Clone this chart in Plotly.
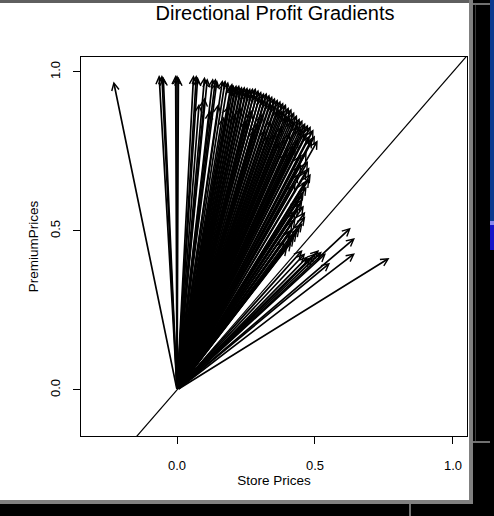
import plotly.graph_objects as go

# ---------------- data ----------------
title_text = "Directional Profit Gradients"
x_label = "Store Prices"
y_label = "PremiumPrices"
tick_vals = [0.0, 0.5, 1.0]
tick_text = ["0.0", "0.5", "1.0"]

origin_x = 0.0
origin_y = 0.0

# upper part of the fan (arrow tips)
fan_x = [-0.23, -0.065, -0.055, -0.05, -0.005, 0.0, 0.005, 0.06, 0.07, 0.075,
         0.10, 0.11, 0.13, 0.14, 0.145, 0.165, 0.175, 0.185, 0.20, 0.205,
         0.215, 0.225, 0.235, 0.245, 0.255, 0.265, 0.275, 0.285, 0.295, 0.305,
         0.315, 0.325, 0.335, 0.345, 0.355, 0.365, 0.375, 0.385, 0.395, 0.405,
         0.415, 0.425, 0.435, 0.445, 0.455, 0.465, 0.475, 0.485, 0.495, 0.50, 0.51]
fan_y = [0.97, 0.99, 0.99, 0.985, 0.99, 0.99, 0.985, 0.99, 0.99, 0.985,
         0.985, 0.98, 0.98, 0.98, 0.975, 0.975, 0.975, 0.97, 0.965, 0.96,
         0.96, 0.96, 0.955, 0.955, 0.953, 0.95, 0.95, 0.95, 0.945, 0.94,
         0.935, 0.935, 0.93, 0.925, 0.92, 0.915, 0.91, 0.905, 0.90, 0.89,
         0.885, 0.875, 0.865, 0.855, 0.85, 0.84, 0.835, 0.83, 0.82, 0.80, 0.785]

# second layer of slightly shorter fan arrows
fan2_x = [0.195, 0.21, 0.22, 0.23, 0.24, 0.25, 0.26, 0.27, 0.28, 0.29,
          0.30, 0.31, 0.32, 0.33, 0.34, 0.35, 0.36, 0.37, 0.38, 0.39,
          0.40, 0.41, 0.42, 0.43, 0.44, 0.45, 0.46, 0.47, 0.48, 0.49]
fan2_y = [0.955, 0.95, 0.95, 0.945, 0.945, 0.94, 0.94, 0.935, 0.935, 0.93,
          0.925, 0.92, 0.915, 0.91, 0.905, 0.90, 0.895, 0.885, 0.88, 0.875,
          0.865, 0.86, 0.85, 0.845, 0.835, 0.825, 0.82, 0.81, 0.80, 0.79]

# arrows ending inside the fan
mid_x = [0.08, 0.10, 0.12, 0.15, 0.17, 0.19, 0.21, 0.23, 0.25, 0.27,
         0.29, 0.31, 0.32, 0.34, 0.36, 0.38, 0.39, 0.41, 0.42, 0.44,
         0.45, 0.44, 0.43, 0.44, 0.43, 0.42, 0.41, 0.39]
mid_y = [0.90, 0.92, 0.88, 0.90, 0.86, 0.90, 0.87, 0.89, 0.85, 0.88,
         0.84, 0.87, 0.82, 0.85, 0.81, 0.83, 0.79, 0.81, 0.77, 0.79,
         0.71, 0.68, 0.65, 0.60, 0.56, 0.53, 0.50, 0.47]

# shorter arrows along the right edge of the fan
edge_x = [0.28, 0.33, 0.37, 0.40, 0.43, 0.45, 0.47, 0.475, 0.48, 0.485, 0.48, 0.47,
          0.46, 0.455, 0.46, 0.465, 0.465, 0.455, 0.445, 0.435, 0.425, 0.415, 0.40,
          0.47, 0.465, 0.455, 0.45, 0.44, 0.43, 0.415]
edge_y = [0.82, 0.80, 0.78, 0.75, 0.76, 0.74, 0.75, 0.72, 0.70, 0.68, 0.665, 0.64,
          0.625, 0.60, 0.58, 0.56, 0.545, 0.525, 0.51, 0.495, 0.48, 0.465, 0.45,
          0.69, 0.655, 0.615, 0.59, 0.57, 0.54, 0.505]

# band just below the diagonal
band_x = [0.455, 0.465, 0.475, 0.485, 0.495, 0.505, 0.515, 0.525, 0.54, 0.555]
band_y = [0.44, 0.43, 0.42, 0.415, 0.42, 0.43, 0.44, 0.435, 0.43, 0.40]

# long low arrows
low_x = [0.63, 0.645, 0.645, 0.77]
low_y = [0.51, 0.478, 0.43, 0.415]

# reference line y = x
diag_x = [-0.5, 1.5]
diag_y = [-0.5, 1.5]

x_range = [-0.348, 1.051]
y_range = [-0.145, 1.047]

# ---------------- figure ----------------
W, H = 494, 516
L, R, T, B = 81, 27, 57, 80
FONT = "Liberation Sans, Arial, sans-serif"

fig = go.Figure()
fig.add_trace(go.Scatter(x=diag_x, y=diag_y, mode="lines",
                         line=dict(color="black", width=1.2), hoverinfo="skip",
                         showlegend=False))

all_x = fan_x + fan2_x + mid_x + edge_x + band_x + low_x
all_y = fan_y + fan2_y + mid_y + edge_y + band_y + low_y
for ex, ey in zip(all_x, all_y):
    fig.add_annotation(x=ex, y=ey, ax=origin_x, ay=origin_y,
                       xref="x", yref="y", axref="x", ayref="y",
                       text="", showarrow=True, arrowhead=5, arrowsize=0.85,
                       arrowwidth=1.7, arrowcolor="black",
                       standoff=0, startstandoff=0)


def pxx(p):
    return (p - L) / (W - L - R)


def pxy(p):
    return (H - B - p) / (H - T - B)


def rect(x0, y0, x1, y1, color):
    fig.add_shape(type="rect", xref="paper", yref="paper",
                  x0=pxx(x0), x1=pxx(x1), y0=pxy(y1), y1=pxy(y0),
                  fillcolor=color, line=dict(width=0), layer="above")

# window chrome
rect(0, 0, 469, 3, "#5f5f5f")
rect(469, 0, 473, 504, "#808080")
rect(473, 0, 494, 516, "#000000")
rect(490, 0, 494, 221, "#0b3a8f")
rect(490, 221, 494, 225, "#8888ee")
rect(490, 225, 494, 250, "#1414c8")
rect(473, 3, 490, 5, "#707070")
rect(473, 441, 490, 443, "#707070")
rect(475, 5, 476, 441, "#3a3a3a")
rect(0, 500, 473, 504, "#808080")
rect(0, 504, 494, 516, "#000000")
rect(409, 504, 411, 516, "#707070")

axis_common = dict(showgrid=False, zeroline=False, showline=True, mirror=True,
                   linecolor="black", linewidth=1.2, ticks="outside", ticklen=7,
                   tickwidth=1, tickcolor="black", tickvals=tick_vals,
                   ticktext=tick_text,
                   tickfont=dict(family=FONT, size=13, color="black"))

fig.update_layout(
    width=W, height=H,
    margin=dict(l=L, r=R, t=T, b=B),
    paper_bgcolor="white", plot_bgcolor="white",
    showlegend=False,
    title=dict(text=title_text, x=275 / W, xanchor="center",
               y=1 - 13 / H, yanchor="middle", yref="container",
               font=dict(family=FONT, size=20, color="black")),
    xaxis=dict(range=x_range, ticklabelstandoff=10,
               title=dict(text=x_label, standoff=1,
                          font=dict(family=FONT, size=13.5, color="black")),
               **axis_common),
    yaxis=dict(range=y_range, tickangle=-90, ticklabelstandoff=8,
               title=dict(text=y_label, standoff=5,
                          font=dict(family=FONT, size=13.5, color="black")),
               **axis_common),
)

fig.write_html("out.html", config={"displayModeBar": False},
               post_script="document.body.style.margin='0';"
                           "document.body.style.padding='0';")
